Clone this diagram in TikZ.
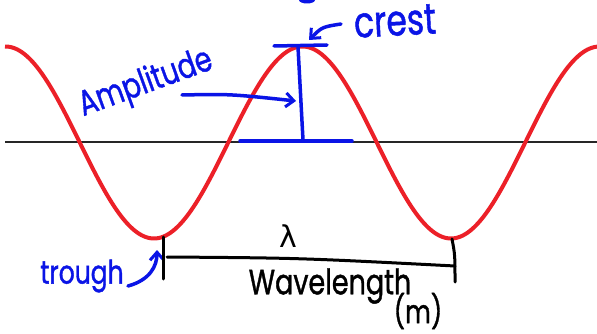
\documentclass[tikz,border=0pt]{standalone}
\usepackage{fontspec}
\setmainfont{Poppins}
\newfontfamily\penfont{Poppins}[FakeBold=1.3]
\newfontfamily\greekpen{DejaVu Sans}
\usetikzlibrary{arrows.meta}
\definecolor{wavered}{RGB}{236,32,40}
\definecolor{penblue}{RGB}{10,20,230}
\newcommand{\tallpen}[1]{\scalebox{1}[1.3]{#1}}
\begin{document}
\begin{tikzpicture}[x=1pt,y=-1pt,
 bluepen/.style={penblue,line width=3.5pt,line cap=round,line join=round},
 blackpen/.style={black,line width=3pt,line cap=round,line join=round},
 bluetext/.style={text=penblue,inner sep=0pt},
 blacktext/.style={text=black,inner sep=0pt},
 barb/.style={-{Straight Barb[length=8pt,width=14pt,line width=3pt]}}
]
\useasboundingbox (0,0) rectangle (597,334);
\fill[white] (0,0) rectangle (597,334);
% midline
\coordinate (midL) at (5,142.5);
\coordinate (midR) at (597,142.5);
\draw[line width=2pt, black!85] (midL) -- (midR);
% wave
\draw[wavered, line width=4pt] plot[domain=5:597, samples=240, smooth] (\x, {142.5-96*cos((\x-302.5)*1.212121)});
% cut-off blue mark at top
\fill[penblue] (307,0) ellipse (8 and 3.5);
% texts
\node[bluetext, font=\fontsize{27}{27}\selectfont\penfont, rotate=20] (amp) at (146,84) {\tallpen{Amplitude}};
\node[bluetext, font=\fontsize{33}{33}\selectfont\penfont, rotate=3] (crest) at (395,21) {\tallpen{crest}};
\node[bluetext, font=\fontsize{25}{25}\selectfont\penfont] (trough) at (82,276) {\tallpen{trough}};
\node[blacktext, font=\fontsize{27}{27}\selectfont\penfont] (wl) at (330,286) {\tallpen{Wavelength}};
\node[blacktext, font=\fontsize{25}{25}\selectfont\penfont] (unit) at (418,311) {\tallpen{(m)}};
\node[blacktext, font=\fontsize{30}{30}\selectfont\greekpen] (lam) at (288,236) {λ};
% amplitude markings
\coordinate (crL) at (274,46);
\coordinate (crR) at (327,45);
\coordinate (ampTop) at (298,47);
\coordinate (ampBot) at (303,140);
\coordinate (baseL) at (240,141);
\coordinate (baseR) at (352,141);
\draw[bluepen] (crL) -- (crR);
\draw[bluepen] (ampTop) -- (ampBot);
\draw[bluepen] (baseL) -- (baseR);
\coordinate (ampTail) at (182,95);
\coordinate (ampHead) at (296,101);
\draw[bluepen, barb] (ampTail) .. controls (230,94) .. (ampHead);
% crest arrow
\coordinate (crTail) at (341,24);
\coordinate (crHead) at (309,40);
\draw[bluepen, barb] (crTail) .. controls (322,27) .. (crHead);
% trough arrow
\coordinate (trTail) at (128,286);
\coordinate (trHead) at (157,250);
\draw[bluepen, barb] (trTail) .. controls (150,280) and (157,266) .. (trHead);
% wavelength bracket
\coordinate (tickLT) at (163,237);
\coordinate (tickLB) at (163,279);
\coordinate (tickRT) at (452,239);
\coordinate (tickRB) at (455,282);
\coordinate (lineL) at (167,257);
\coordinate (lineR) at (455,266);
\draw[blackpen] (tickLT) -- (tickLB);
\draw[blackpen] (lineL) .. controls (300,258) .. (lineR);
\draw[blackpen] (tickRT) .. controls (455,255) .. (tickRB);
\end{tikzpicture}
\end{document}
